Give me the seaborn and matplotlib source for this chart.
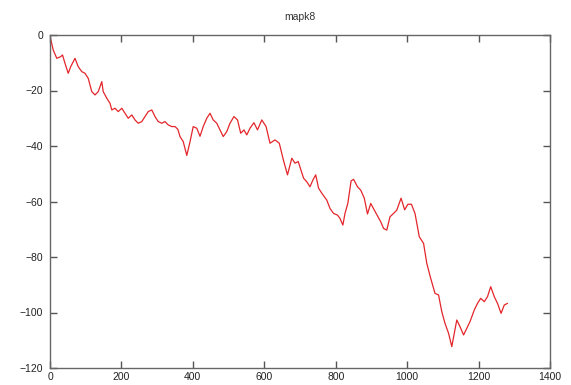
import numpy as np
import pandas as pd
import seaborn as sb
import matplotlib
matplotlib.use("Agg")
import matplotlib.pyplot as plt

# trace
x_vals = [0, 9, 19, 30, 35, 42, 51, 58, 65, 70, 79, 89, 98, 107, 117, 126, 135,
          145, 149, 159, 168, 173, 182, 191, 201, 210, 219, 229, 238, 247, 257,
          266, 275, 285, 294, 303, 313, 322, 331, 341, 350, 358, 364, 373, 383,
          392, 401, 411, 420, 429, 439, 448, 457, 467, 476, 485, 495, 504, 515,
          525, 534, 543, 551, 560, 571, 581, 593, 605, 616, 630, 642, 654, 665,
          677, 686, 695, 710, 719, 728, 736, 744, 752, 761, 775, 784, 794, 805,
          812, 820, 826, 834, 843, 850, 861, 870, 880, 889, 898, 908, 917, 926,
          934, 943, 952, 962, 971, 983, 993, 1002, 1012, 1022, 1034, 1046, 1055,
          1066, 1078, 1088, 1097, 1106, 1116, 1125, 1132, 1139, 1148, 1158, 1167,
          1176, 1188, 1197, 1206, 1216, 1225, 1234, 1244, 1253, 1263, 1272, 1281]
y_vals = [-0.5, -5.4, -8.4, -7.8, -7.2, -10.2, -13.8, -11.4, -9.6, -8.4, -11.4,
          -13.2, -13.8, -15.6, -20.4, -21.6, -20.4, -16.8, -20.4, -22.8, -24.6,
          -27.0, -26.4, -27.6, -26.4, -28.2, -30.0, -28.8, -30.6, -31.8, -31.2,
          -29.4, -27.6, -27.0, -29.4, -31.2, -31.8, -31.2, -32.4, -33.0, -33.0,
          -34.0, -36.6, -38.4, -43.4, -38.5, -33.0, -33.6, -36.5, -33.0, -30.0,
          -28.2, -30.6, -31.8, -34.2, -36.6, -34.8, -31.8, -29.4, -30.6, -35.4,
          -34.2, -36.0, -33.6, -31.6, -34.2, -30.6, -33.0, -39.0, -37.8, -39.0,
          -45.3, -50.4, -44.4, -46.2, -45.6, -51.6, -52.9, -54.7, -52.3, -50.4,
          -55.2, -57.0, -59.5, -62.5, -64.3, -64.9, -66.1, -68.5, -64.3, -60.6,
          -52.6, -52.0, -54.7, -55.9, -58.8, -64.5, -60.7, -63.1, -65.2, -67.3,
          -69.7, -70.3, -65.5, -64.3, -63.1, -58.8, -63.0, -61.0, -61.0, -64.3,
          -72.7, -75.1, -82.3, -87.7, -93.1, -93.7, -99.7, -103.9, -107.5,
          -112.3, -107.5, -102.7, -105.1, -108.1, -105.7, -103.3, -99.1, -96.7,
          -94.9, -96.1, -94.3, -90.7, -94.3, -96.7, -100.3, -97.3, -96.7]

df = pd.DataFrame({"x": x_vals, "y": y_vals})

sb.set_style("ticks")
plt.rcParams["font.family"] = ["Liberation Sans", "DejaVu Sans"]

fig, ax = plt.subplots(figsize=(5.71, 3.85), dpi=100)
fig.subplots_adjust(left=50/571, right=550/571, top=1-35/385, bottom=1-368/385)

sb.lineplot(data=df, x="x", y="y", color="#e3262b", linewidth=0.9, ax=ax)

ax.set_xlim(0, 1400)
ax.set_ylim(-120, 0)
ax.set_xticks(np.arange(0, 1401, 200))
ax.set_yticks(np.arange(-120, 1, 20))
ax.set_xlabel("")
ax.set_ylabel("")
ax.set_title("mapk8", fontsize=7.5, pad=11, color="#333333")

for s in ax.spines.values():
    s.set_visible(True)
    s.set_color("#666666")
    s.set_linewidth(1.0)
ax.tick_params(direction="in", bottom=True, left=True, top=True, right=True,
               length=5, width=1.0, color="#555555", labelsize=7.5,
               labelcolor="#222222")
ax.tick_params(axis="x", pad=3)
ax.tick_params(axis="y", pad=5)

plt.savefig("out.png", dpi=100)
